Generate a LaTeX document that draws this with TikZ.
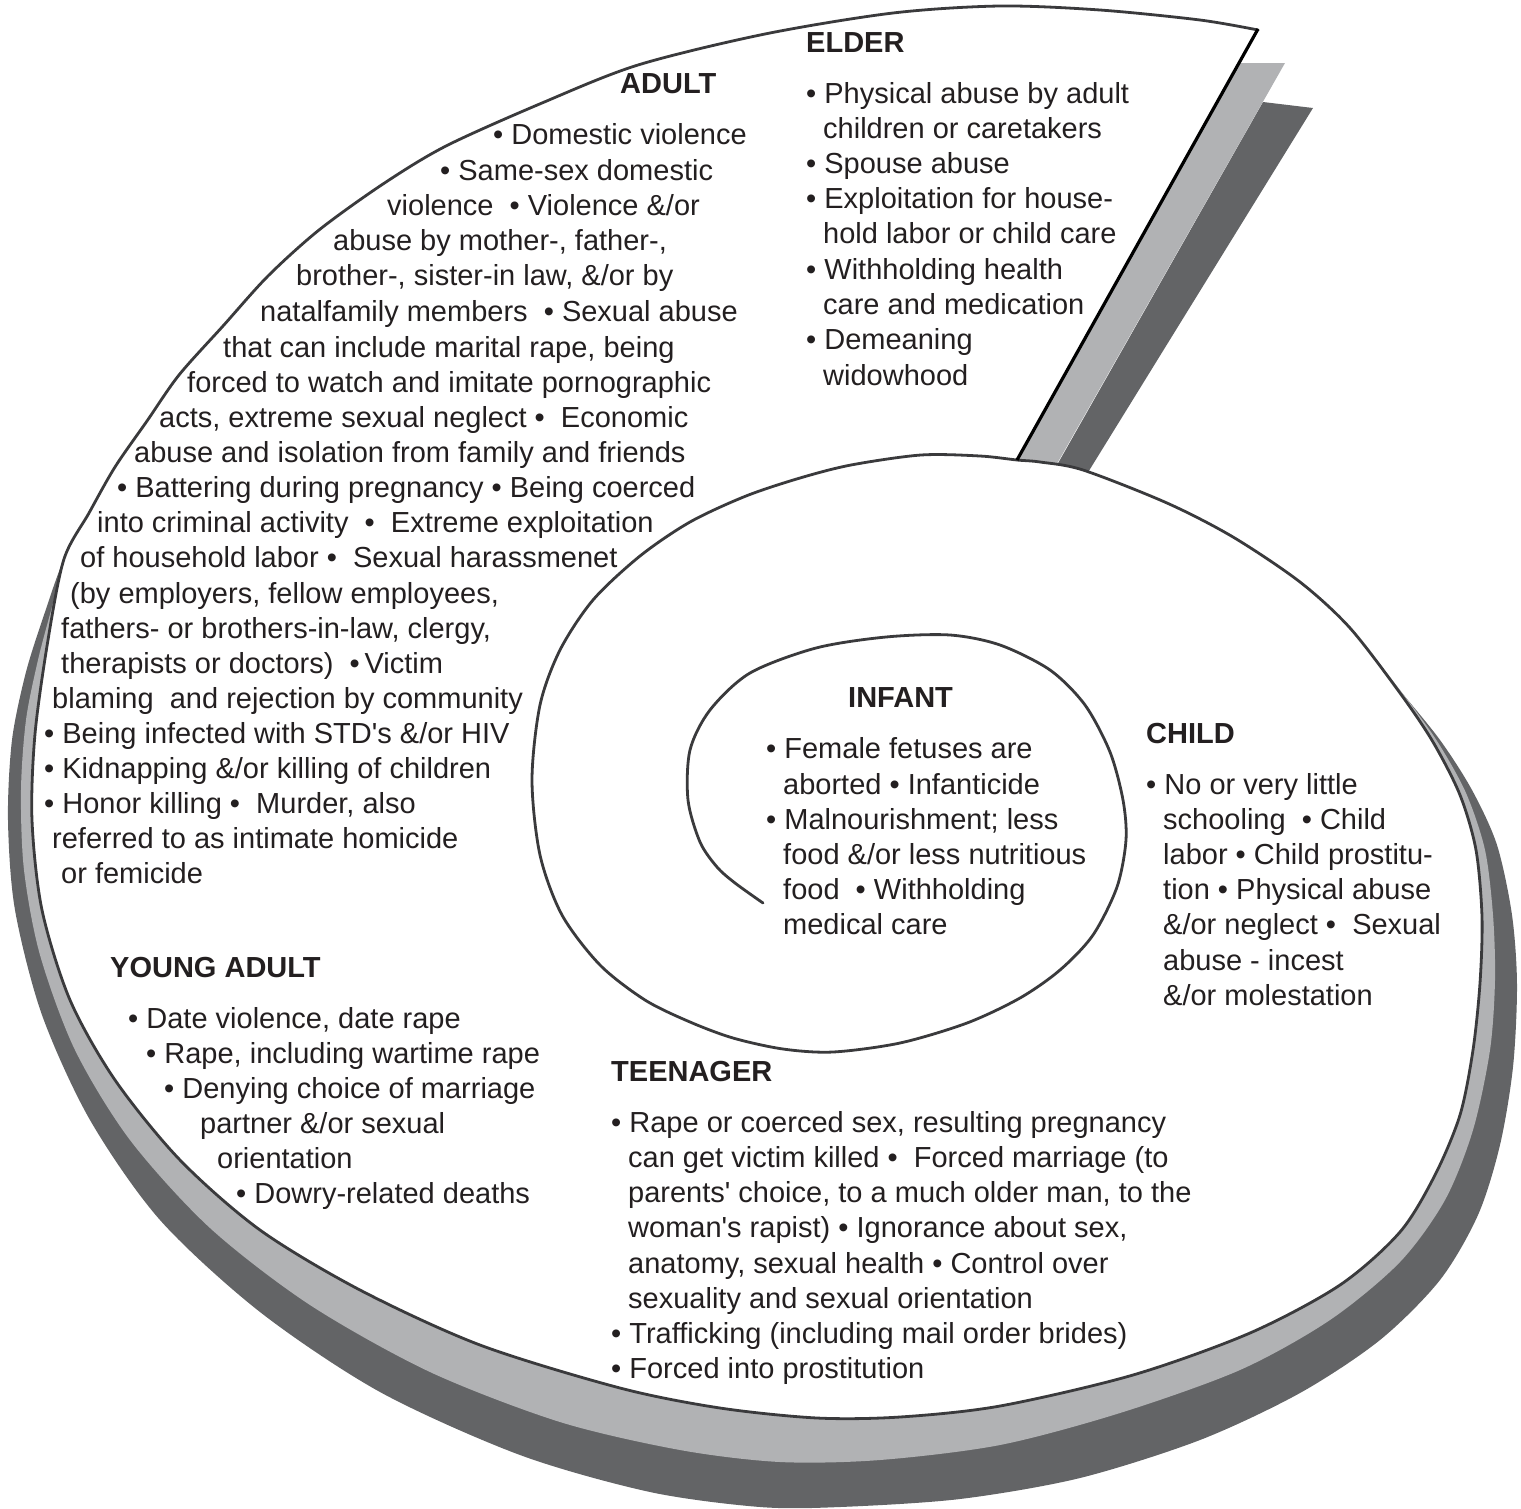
\documentclass[tikz,border=0pt]{standalone}
\usepackage{fontspec}
\newfontfamily\lsans{Liberation Sans}
\definecolor{lgray}{HTML}{B1B2B4}
\definecolor{dgray}{HTML}{636466}
\definecolor{sline}{HTML}{3A3A3C}
\definecolor{txt}{HTML}{231F20}
\tikzset{
  lbl/.style={anchor=base west, inner sep=0pt, font=\lsans\fontsize{29}{35}\selectfont, text=txt},
  hd/.style={lbl, font=\lsans\bfseries\fontsize{29}{35}\selectfont},
  spiralline/.style={draw=sline, line width=2.8pt, line join=round, line cap=round},
  flapline/.style={draw=black, line width=3.2pt}
}
\begin{document}
\begin{tikzpicture}[x=1pt,y=-1pt]
\useasboundingbox (0,0) rectangle (1521,1508);
% dark shadow band
\fill[dgray] plot[smooth] coordinates {(1300,582) (1350,628) (1398,688) (1440,740) (1472,790) (1497,845) (1512,915) (1517,985) (1513,1067) (1500,1145) (1478,1215) (1440,1280) (1380,1340) (1300,1393) (1200,1440) (1080,1478) (960,1499) (840,1507) (760,1507) (650,1492) (520,1455) (380,1392) (260,1312) (160,1220) (90,1120) (42,1015) (15,910) (8,820) (12,740) (26,672) (45,612) (64,559) (89,513) (115,467)} -- cycle;
% light shadow band
\fill[lgray] plot[smooth] coordinates {(1300,582) (1350,628) (1400,690) (1437,741) (1466,793) (1485,850) (1493,915) (1495,980) (1490,1050) (1473,1130) (1445,1200) (1400,1262) (1330,1320) (1240,1370) (1120,1413) (1000,1445) (880,1460) (780,1462) (680,1450) (560,1422) (430,1372) (310,1305) (210,1228) (130,1140) (75,1050) (40,955) (24,870) (21,790) (26,720) (38,660) (52,607) (66,558) (89,513) (115,467)} -- cycle;
% flap bands
\fill[dgray] (1263,102) -- (1313,108) -- (1074,495) -- (1040,495) -- cycle;
\fill[lgray] (1239,63) -- (1285,63) -- (1042,490) -- (1000,490) -- cycle;
% white body
\fill[white] (1258,29) -- plot[smooth] coordinates {(1017,460) (1040,462) (1083,470) (1167,503) (1233,537) (1300,582) (1350,628) (1400,693) (1433,742) (1460,795) (1476,850) (1482,917) (1480,983) (1473,1050) (1460,1115) (1435,1175) (1400,1232) (1340,1285) (1250,1333) (1133,1375) (1000,1406) (900,1417) (817,1418) (720,1408) (620,1388) (480,1345) (360,1290) (260,1230) (180,1160) (115,1080) (70,1000) (42,910) (32,820) (35,734) (48,640) (64,559) (89,513) (115,467) (147,421) (179,375) (223,326) (268,276) (319,230) (383,184) (446,146) (542,103) (638,65) (765,34) (893,13) (1000,6) (1100,10) (1200,20) (1258,30)} -- cycle;
% spiral line
\draw[spiralline] plot[smooth] coordinates {(763,903) (735,883) (717,867) (700,842) (688,800) (690,750) (710,710) (750,673) (816,648) (886,637) (950,635) (1000,645) (1050,670) (1085,705) (1110,752) (1123,800) (1126,840) (1117,887) (1093,935) (1060,970) (1020,998) (967,1023) (900,1043) (833,1052) (783,1049) (733,1038) (690,1022) (645,1000) (600,965) (562,915) (540,855) (532,780) (540,705) (560,650) (593,600) (640,556) (690,522) (746,496) (800,478) (851,465) (921,455) (980,456) (1017,460) (1040,462) (1083,470) (1167,503) (1233,537) (1300,582) (1350,628) (1400,693) (1433,742) (1460,795) (1476,850) (1482,917) (1480,983) (1473,1050) (1460,1115) (1435,1175) (1400,1232) (1340,1285) (1250,1333) (1133,1375) (1000,1406) (900,1417) (817,1418) (720,1408) (620,1388) (480,1345) (360,1290) (260,1230) (180,1160) (115,1080) (70,1000) (42,910) (32,820) (35,734) (48,640) (64,559) (89,513) (115,467) (147,421) (179,375) (223,326) (268,276) (319,230) (383,184) (446,146) (542,103) (638,65) (765,34) (893,13) (1000,6) (1100,10) (1200,20) (1258,30)};
\coordinate (flaptop) at (1258,29);
\coordinate (flapbot) at (1017,460);
\draw[flapline] (flaptop) -- (flapbot);
% ELDER
\node[hd] (elder) at (806,52) {ELDER};
\node[lbl] (e1) at (806,103) {• Physical abuse by adult};
\node[lbl] (e2) at (823,138) {children or caretakers};
\node[lbl] (e3) at (806,173) {• Spouse abuse};
\node[lbl] (e4) at (806,208) {• Exploitation for house-};
\node[lbl] (e5) at (823,243) {hold labor or child care};
\node[lbl] (e6) at (806,279) {• Withholding health};
\node[lbl] (e7) at (823,314) {care and medication};
\node[lbl] (e8) at (806,349) {• Demeaning};
\node[lbl] (e9) at (823,385) {widowhood};
% ADULT
\node[hd] (adult) at (620,93) {ADULT};
\node[lbl] (a1) at (493,144) {• Domestic violence};
\node[lbl] (a2) at (440,180) {• Same-sex domestic};
\node[lbl] (a3) at (387,215) {violence~ • Violence \&/or};
\node[lbl] (a4) at (333,250) {abuse by mother-, father-,};
\node[lbl] (a5) at (296,285) {brother-, sister-in law, \&/or by};
\node[lbl] (a6) at (260,321) {natalfamily members~ • Sexual abuse};
\node[lbl] (a7) at (223,357) {that can include marital rape, being};
\node[lbl] (a8) at (187,392) {forced to watch and imitate pornographic};
\node[lbl] (a9) at (159,427) {acts, extreme sexual neglect •~ Economic};
\node[lbl] (a10) at (134,462) {abuse and isolation from family and friends};
\node[lbl] (a11) at (117,497) {• Battering during pregnancy • Being coerced};
\node[lbl] (a12) at (97,532) {into criminal activity~ •~ Extreme exploitation};
\node[lbl] (a13) at (80,567) {of household labor •~ Sexual harassmenet};
\node[lbl] (a14) at (70,603) {(by employers, fellow employees,};
\node[lbl] (a15) at (61,638) {fathers- or brothers-in-law, clergy,};
\node[lbl] (a16) at (61,673) {therapists or doctors)~ •\,Victim};
\node[lbl] (a17) at (52,708) {blaming~ and rejection by community};
\node[lbl] (a18) at (44,743) {• Being infected with STD's \&/or HIV};
\node[lbl] (a19) at (44,778) {• Kidnapping \&/or killing of children};
\node[lbl] (a20) at (44,813) {• Honor killing •~ Murder, also};
\node[lbl] (a21) at (52,848) {referred to as intimate homicide};
\node[lbl] (a22) at (61,883) {or femicide};
% YOUNG ADULT
\node[hd] (young) at (110,977) {YOUNG ADULT};
\node[lbl] (y1) at (128,1028) {• Date violence, date rape};
\node[lbl] (y2) at (146,1063) {• Rape, including wartime rape};
\node[lbl] (y3) at (164,1098) {• Denying choice of marriage};
\node[lbl] (y4) at (200,1133) {partner \&/or sexual};
\node[lbl] (y5) at (217,1168) {orientation};
\node[lbl] (y6) at (236,1203) {• Dowry-related deaths};
% TEENAGER
\node[hd] (teen) at (611,1081) {TEENAGER};
\node[lbl] (t1) at (611,1132) {• Rape or coerced sex, resulting pregnancy};
\node[lbl] (t2) at (628,1167) {can get victim killed •~ Forced marriage (to};
\node[lbl] (t3) at (628,1202) {parents' choice, to a much older man, to the};
\node[lbl] (t4) at (628,1237) {woman's rapist) • Ignorance about sex,};
\node[lbl] (t5) at (628,1273) {anatomy, sexual health • Control over};
\node[lbl] (t6) at (628,1308) {sexuality and sexual orientation};
\node[lbl] (t7) at (611,1343) {• Trafficking (including mail order brides)};
\node[lbl] (t8) at (611,1378) {• Forced into prostitution};
% INFANT
\node[hd] (infant) at (848,707) {INFANT};
\node[lbl] (i1) at (766,758) {• Female fetuses are};
\node[lbl] (i2) at (783,794) {aborted • Infanticide};
\node[lbl] (i3) at (766,829) {• Malnourishment; less};
\node[lbl] (i4) at (783,864) {food \&/or less nutritious};
\node[lbl] (i5) at (783,899) {food~ • Withholding};
\node[lbl] (i6) at (783,934) {medical care};
% CHILD
\node[hd] (child) at (1146,743) {CHILD};
\node[lbl] (c1) at (1146,794) {• No or very little};
\node[lbl] (c2) at (1163,829) {schooling~ • Child};
\node[lbl] (c3) at (1163,864) {labor • Child prostitu-};
\node[lbl] (c4) at (1163,899) {tion • Physical abuse};
\node[lbl] (c5) at (1163,934) {\&/or neglect •~ Sexual};
\node[lbl] (c6) at (1163,970) {abuse - incest};
\node[lbl] (c7) at (1163,1005) {\&/or molestation};
\end{tikzpicture}
\end{document}
